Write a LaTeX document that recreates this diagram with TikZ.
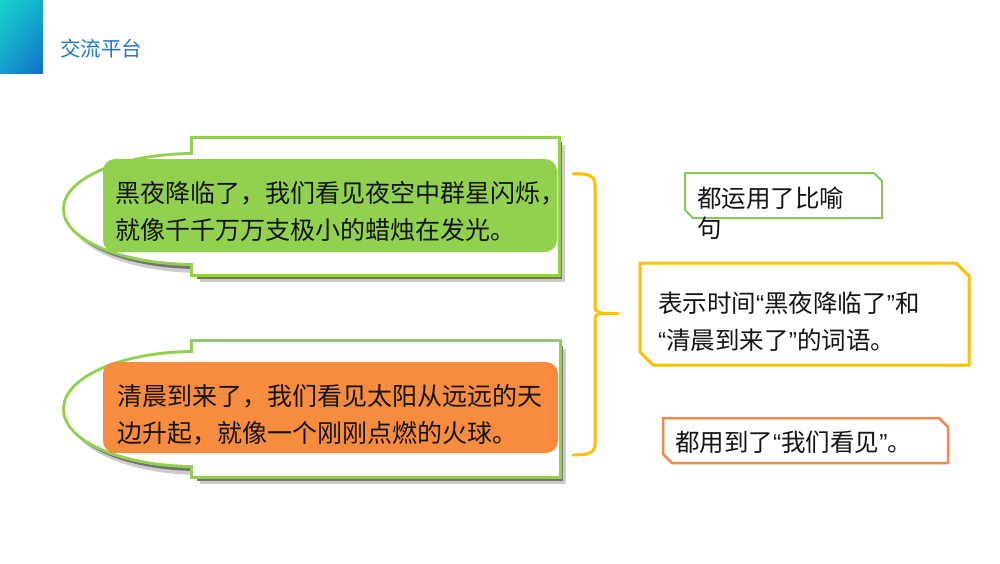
\documentclass[tikz,border=0pt]{standalone}
\usepackage{fontspec}
\usetikzlibrary{shadings}
\newfontfamily\cjk{Noto Sans CJK SC}
\newfontfamily\latinq{Liberation Sans}
\newcommand{\qo}{{\latinq “}}
\newcommand{\qc}{{\latinq ”}}
\definecolor{ogreen}{RGB}{146,208,80}
\definecolor{ofill}{RGB}{146,208,80}
\definecolor{oorange}{RGB}{248,140,62}
\definecolor{oyellow}{RGB}{255,192,0}
\definecolor{bgreen}{RGB}{140,198,90}
\definecolor{borange}{RGB}{240,138,75}
\definecolor{titleblue}{RGB}{30,120,200}
\definecolor{txt}{RGB}{20,20,20}
\definecolor{hul}{RGB}{22,212,200}
\definecolor{hur}{RGB}{20,175,210}
\definecolor{hll}{RGB}{20,160,208}
\definecolor{hlr}{RGB}{18,110,196}
\tikzset{
  bigtext/.style={font=\cjk\fontsize{25}{37}\selectfont, text=txt, anchor=west, inner sep=0pt, align=left},
  smalltext/.style={font=\cjk\fontsize{24.5}{37}\selectfont, text=txt, anchor=west, inner sep=0pt, align=left},
  outline/.style={draw=ogreen, line width=6pt},
  shadowa/.style={fill=black!55},
  shadowb/.style={fill=black!20},
}
\begin{document}
\begin{tikzpicture}[x=1pt,y=-1pt]
\useasboundingbox (0,0) rectangle (1000,563);
\fill[white] (0,0) rectangle (1000,563);
% header
\shade[upper left=hul, upper right=hur, lower left=hll, lower right=hlr]
  (0,0) rectangle (43,73);
\node[font=\cjk\fontsize{20.5}{22}\selectfont, text=titleblue, anchor=west, inner sep=0pt] (title) at (60,49) {交流平台};

% ---- top shape ----
\fill[shadowb] (200,145) rectangle (565,282);
\fill[shadowb] (202,217) ellipse [x radius=132pt, y radius=56pt];
\fill[shadowa] (197,142) rectangle (562,279);
\fill[shadowa] (199,213) ellipse [x radius=132pt, y radius=56pt];
\draw[outline] (193,139) rectangle (558,274);
\draw[outline] (195,209) ellipse [x radius=130pt, y radius=54pt];
\fill[white] (193,139) rectangle (558,274);
\fill[white] (195,209) ellipse [x radius=130pt, y radius=54pt];
\fill[ofill, rounded corners=12pt] (103,159) rectangle (557,252);
\node[bigtext] (t1) at (115,211.5) {黑夜降临了，我们看见夜空中群星闪烁，\\就像千千万万支极小的蜡烛在发光。};

% ---- bottom shape ----
\fill[shadowb] (200,349) rectangle (566,484);
\fill[shadowb] (202,417) ellipse [x radius=132pt, y radius=58pt];
\fill[shadowa] (197,346) rectangle (563,481);
\fill[shadowa] (199,413) ellipse [x radius=132pt, y radius=58pt];
\draw[outline] (193,342) rectangle (559,476);
\draw[outline] (195,409) ellipse [x radius=130pt, y radius=56pt];
\fill[white] (193,342) rectangle (559,476);
\fill[white] (195,409) ellipse [x radius=130pt, y radius=56pt];
\fill[oorange, rounded corners=12pt] (103,362) rectangle (558,453);
\node[bigtext] (t2) at (117,415) {清晨到来了，我们看见太阳从远远的天\\边升起，就像一个刚刚点燃的火球。};

% ---- brace ----
\coordinate (btop) at (573,174);
\coordinate (bbot) at (573,455);
\coordinate (btip) at (618,313);
\draw[oyellow, line width=3pt, line cap=round, line join=round]
  (btop) .. controls (590,173) and (595,176) .. (595,186) -- (595,303)
  .. controls (595,311) .. (602,313) .. controls (595,315) .. (595,323)
  -- (595,443) .. controls (595,453) and (589,455) .. (bbot);
\draw[oyellow, line width=3pt, line cap=round] (602,313) -- (btip);

% ---- right boxes ----
\draw[bgreen, line width=2pt, fill=white]
  (685,173) -- (874,173) -- (882,181) -- (882,218) -- (693,218) -- (685,210) -- cycle;
\node[smalltext, align=left] (r1) at (697,213) {都运用了比喻\\[-7pt]句};

\draw[oyellow, line width=3pt, fill=white]
  (640,263) -- (956,263) -- (969,276) -- (969,365) -- (653,365) -- (640,352) -- cycle;
\node[smalltext] (r2) at (658,321.5) {表示时间\qo 黑夜降临了\qc 和\\\qo 清晨到来了\qc 的词语。};

\draw[borange, line width=2.5pt, fill=white]
  (663,418) -- (939,418) -- (948,427) -- (948,463) -- (672,463) -- (663,454) -- cycle;
\node[smalltext] (r3) at (675,442) {都用到了\qo 我们看见\qc 。};
\end{tikzpicture}
\end{document}
